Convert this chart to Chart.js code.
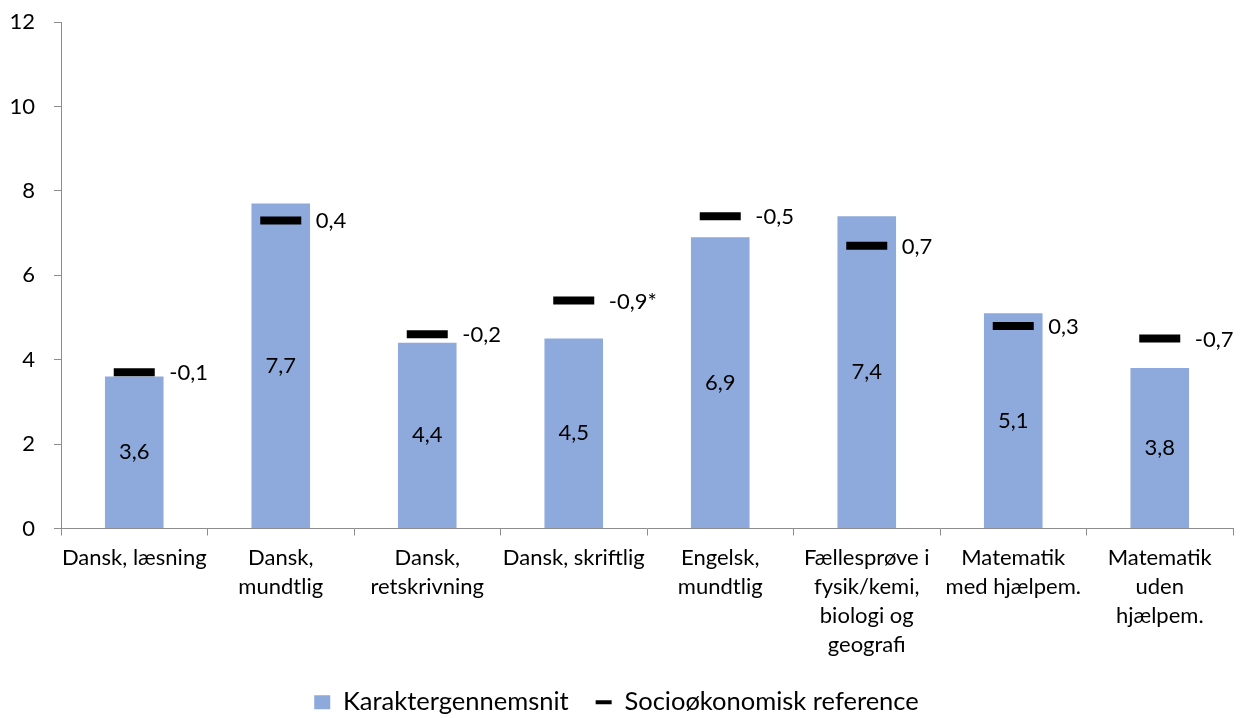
<!DOCTYPE html>
<html>
<head>
<meta charset="utf-8">
<script src="https://cdn.jsdelivr.net/npm/chart.js@4"></script>
<style>
  body { margin: 0; background: #fff; }
  #wrap { width: 1242px; height: 718px; position: relative; }
</style>
</head>
<body>
<div id="wrap"><canvas id="chart"></canvas></div>
<script>
const categories = [
  ['Dansk, læsning'],
  ['Dansk,', 'mundtlig'],
  ['Dansk,', 'retskrivning'],
  ['Dansk, skriftlig'],
  ['Engelsk,', 'mundtlig'],
  ['Fællesprøve i', 'fysik/kemi,', 'biologi og', 'geografi'],
  ['Matematik', 'med hjælpem.'],
  ['Matematik', 'uden', 'hjælpem.'],
];
const averages = [3.6, 7.7, 4.4, 4.5, 6.9, 7.4, 5.1, 3.8];
const references = [3.7, 7.3, 4.6, 5.4, 7.4, 6.7, 4.8, 4.5];
const diffLabels = ['-0,1', '0,4', '-0,2', '-0,9*', '-0,5', '0,7', '0,3', '-0,7'];

const FONT = 'Lato, "Open Sans", sans-serif';
const BAR_COLOR = '#8EA9DB';
const AXIS_COLOR = '#8C8C8C';

const fmt = (v) => v.toFixed(1).replace('.', ',');

// value inside bars + difference next to the markers
const labelPlugin = {
  id: 'labels',
  afterDatasetsDraw(chart) {
    const ctx = chart.ctx;
    ctx.save();
    ctx.font = '22px ' + FONT;
    ctx.fillStyle = '#000';
    ctx.textBaseline = 'middle';

    const bars = chart.getDatasetMeta(0).data;
    ctx.textAlign = 'center';
    bars.forEach((bar, i) => {
      ctx.fillText(fmt(averages[i]), bar.x, (bar.y + bar.base) / 2);
    });

    const marks = chart.getDatasetMeta(1).data;
    ctx.textAlign = 'left';
    marks.forEach((pt, i) => {
      ctx.fillText(diffLabels[i], pt.x + 35, pt.y + 1);
    });
    ctx.restore();
  },
};

new Chart(document.getElementById('chart'), {
  data: {
    labels: categories,
    datasets: [
      {
        type: 'bar',
        label: 'Karaktergennemsnit',
        data: averages,
        backgroundColor: BAR_COLOR,
        barPercentage: 0.4,
        categoryPercentage: 1,
        order: 1,
      },
      {
        type: 'line',
        label: 'Socioøkonomisk reference',
        data: references,
        showLine: false,
        pointStyle: 'line',
        pointRadius: 20.5,
        pointHoverRadius: 20.5,
        pointBorderWidth: 8,
        pointHoverBorderWidth: 8,
        borderColor: '#000',
        backgroundColor: '#000',
        order: 0,
      },
    ],
  },
  options: {
    responsive: true,
    maintainAspectRatio: false,
    animation: false,
    events: [],
    layout: {
      autoPadding: false,
      padding: { top: 22, right: 9, left: 0, bottom: -7 },
    },
    scales: {
      x: {
        offset: true,
        grid: {
          offset: true,
          drawOnChartArea: false,
          drawTicks: true,
          tickLength: 7,
          color: AXIS_COLOR,
        },
        border: { color: AXIS_COLOR, width: 1 },
        ticks: {
          color: '#000',
          padding: 8,
          maxRotation: 0,
          autoSkip: false,
          font: { family: FONT, size: 22, lineHeight: 1.32 },
        },
        afterFit(scale) {
          scale.height = 134;
          scale.paddingLeft = 0;
          scale.paddingRight = 0;
        },
      },
      y: {
        min: 0,
        max: 12,
        grid: {
          drawOnChartArea: false,
          drawTicks: true,
          tickLength: 7,
          color: AXIS_COLOR,
        },
        border: { color: AXIS_COLOR, width: 1 },
        ticks: {
          stepSize: 2,
          color: '#000',
          padding: 19,
          font: { family: FONT, size: 22 },
        },
        afterFit(scale) {
          scale.width = 61;
          scale.paddingTop = 0;
          scale.paddingBottom = 0;
        },
      },
    },
    plugins: {
      tooltip: { enabled: false },
      legend: {
        position: 'bottom',
        labels: {
          usePointStyle: true,
          pointStyleWidth: 16,
          boxHeight: 14,
          padding: 27,
          color: '#000',
          font: { family: FONT, size: 25.5 },
          generateLabels() {
            return [
              {
                text: 'Karaktergennemsnit',
                fillStyle: BAR_COLOR,
                strokeStyle: BAR_COLOR,
                lineWidth: 0,
                pointStyle: 'rect',
                datasetIndex: 0,
                fontColor: '#000',
              },
              {
                text: 'Socioøkonomisk reference',
                fillStyle: '#000',
                strokeStyle: '#000',
                lineWidth: 4,
                pointStyle: 'line',
                datasetIndex: 1,
                fontColor: '#000',
              },
            ];
          },
        },
      },
    },
  },
  plugins: [labelPlugin],
});
</script>
</body>
</html>
